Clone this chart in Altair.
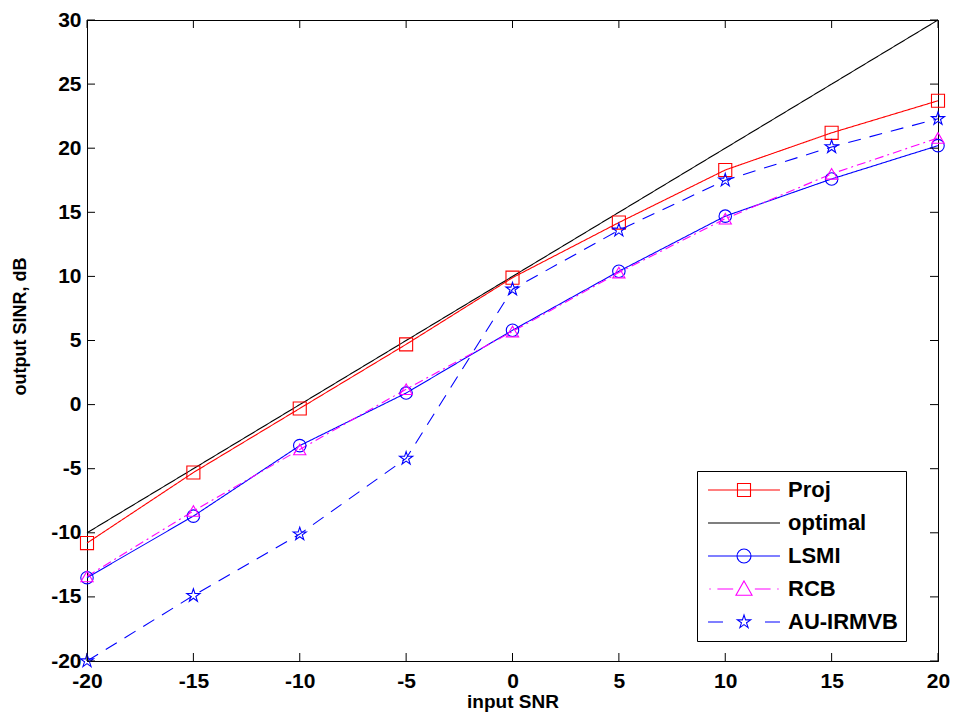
import altair as alt
import pandas as pd
import math

snr = [-20, -15, -10, -5, 0, 5, 10, 15, 20]
proj = [-10.8, -5.3, -0.3, 4.7, 9.9, 14.2, 18.3, 21.2, 23.7]
optimal = [-10, -5, 0, 5, 10, 15, 20, 25, 30]
lsmi = [-13.5, -8.7, -3.2, 0.9, 5.8, 10.4, 14.7, 17.6, 20.2]
rcb = [-13.4, -8.3, -3.5, 1.2, 5.7, 10.3, 14.5, 18.0, 20.8]
au_irmvb = [-20.0, -14.9, -10.1, -4.2, 9.0, 13.6, 17.5, 20.1, 22.3]

series_names = ["Proj", "optimal", "LSMI", "RCB", "AU-IRMVB"]
series_colors = ["#ff0000", "#000000", "#0000ff", "#ff00ff", "#0000ff"]
series_dash = [[1, 0], [1, 0], [1, 0], [9, 4, 2, 4], [13, 9]]
x_ticks = [-20, -15, -10, -5, 0, 5, 10, 15, 20]
y_ticks = [-20, -15, -10, -5, 0, 5, 10, 15, 20, 25, 30]

rows = []
for name, vals in zip(series_names, [proj, optimal, lsmi, rcb, au_irmvb]):
    for xv, yv in zip(snr, vals):
        rows.append({"series": name, "snr": xv, "sinr": yv})
df = pd.DataFrame(rows)

W, H = 851, 641
FONT = "Liberation Sans"


def star_path(cx=0.0, cy=0.0, r=1.0, inner=0.382):
    pts = []
    for k in range(10):
        a = math.radians(-90 + 36 * k)
        rr = r if k % 2 == 0 else r * inner
        pts.append(f"{cx + rr * math.cos(a):.3f},{cy + rr * math.sin(a):.3f}")
    return "M" + "L".join(pts) + "Z"


STAR = star_path()

# legend symbol paths (line + marker); symbolSize 196 -> 1 unit = 7 px
L = 5.14
legend_paths = [
    f"M-{L},0L{L},0M-0.93,-0.93L0.93,-0.93L0.93,0.93L-0.93,0.93Z",
    f"M-{L},0L{L},0",
    f"M-{L},0L{L},0M-1,0A1,1 0 1,0 1,0A1,1 0 1,0 -1,0",
    "M-4.95,0L-4.75,0M-3.8,0L-1.55,0M1.55,0L3.8,0M4.75,0L4.95,0"
    "M0,-1.15L1.15,0.9L-1.15,0.9Z",
    f"M-{L},0L-3.0,0M3.0,0L{L},0" + star_path(0, 0, 1.0),
]

x_scale = alt.Scale(domain=[-20, 20], nice=False, zero=False)
y_scale = alt.Scale(domain=[-20, 30], nice=False, zero=False)

x_enc = alt.X("snr:Q", scale=x_scale, title="input SNR",
              axis=alt.Axis(values=x_ticks, ticks=False, grid=False, labelPadding=9,
                            labelExpr="'' + datum.value", labelFlush=False,
                            titleFontSize=19, titleBaseline="alphabetic", titleY=46))
y_enc = alt.Y("sinr:Q", scale=y_scale, title="output SINR, dB",
              axis=alt.Axis(values=y_ticks, ticks=False, grid=False, labelPadding=6,
                            labelExpr="'' + datum.value", labelFlush=False,
                            titleFontSize=18, titleBaseline="alphabetic",
                            titleX=-62, titleY=306, titleAngle=-90))

base = alt.Chart(df)

line_layers = []
for i, (name, col, dash) in enumerate(zip(series_names, series_colors, series_dash)):
    enc = dict(x=x_enc, y=y_enc) if i == 0 else dict(x="snr:Q", y="sinr:Q")
    line_layers.append(
        base.transform_filter(alt.datum.series == name).mark_line(
            strokeWidth=1.1, color=col, strokeDash=dash
        ).encode(**enc)
    )

marker_specs = [
    ("Proj", "square", 170, "#ff0000"),
    ("LSMI", "circle", 155, "#0000ff"),
    ("RCB", "triangle-up", 150, "#ff00ff"),
    ("AU-IRMVB", STAR, 190, "#0000ff"),
]
point_layers = []
for name, shape, size, col in marker_specs:
    point_layers.append(
        base.transform_filter(alt.datum.series == name).mark_point(
            shape=shape, size=size, filled=False, color=col, strokeWidth=1.1, opacity=1
        ).encode(x="snr:Q", y="sinr:Q")
    )

legend_kw = dict(title=None, orient="none", legendX=610, legendY=451,
                 symbolSize=196, rowPadding=11,
                 labelFontSize=22, labelFont=FONT, labelFontWeight="bold",
                 labelColor="black", labelOffset=33,
                 strokeColor="black", fillColor="white", padding=8,
                 symbolStrokeWidth=1.1, symbolOffset=28,
                 symbolFillColor="transparent")

legend_layer = base.transform_filter("datum.snr == 0").mark_point(
    filled=False, strokeWidth=1.1, opacity=0
).encode(
    x="snr:Q", y="sinr:Q",
    stroke=alt.Stroke("series:N", scale=alt.Scale(domain=series_names, range=series_colors),
                      legend=alt.Legend(**legend_kw)),
    shape=alt.Shape("series:N", scale=alt.Scale(domain=series_names, range=legend_paths),
                    legend=alt.Legend(**legend_kw)),
)

tick_len = 8
xt = pd.DataFrame({"t": x_ticks})
yt = pd.DataFrame({"t": y_ticks})
tick_bottom = alt.Chart(xt).mark_rule(color="black", strokeWidth=1).encode(
    x=alt.X("t:Q", scale=x_scale), y=alt.value(H), y2=alt.value(H - tick_len))
tick_top = alt.Chart(xt).mark_rule(color="black", strokeWidth=1).encode(
    x=alt.X("t:Q", scale=x_scale), y=alt.value(0), y2=alt.value(tick_len))
tick_left = alt.Chart(yt).mark_rule(color="black", strokeWidth=1).encode(
    y=alt.Y("t:Q", scale=y_scale), x=alt.value(0), x2=alt.value(tick_len))
tick_right = alt.Chart(yt).mark_rule(color="black", strokeWidth=1).encode(
    y=alt.Y("t:Q", scale=y_scale), x=alt.value(W), x2=alt.value(W - tick_len))

chart = alt.layer(
    *line_layers, *point_layers, legend_layer, tick_bottom, tick_top, tick_left, tick_right
).properties(
    width=W, height=H,
    autosize=alt.AutoSizeParams(type="none"),
    padding={"left": 79, "top": 12, "right": 12, "bottom": 55},
    background="white",
).configure_view(
    stroke="black", strokeWidth=1
).configure_axis(
    domainColor="black", domainWidth=1,
    labelFont=FONT, labelFontSize=21, labelFontWeight="bold", labelColor="black",
    titleFont=FONT, titleFontWeight="bold", titleColor="black",
)

chart.save("out.html", embed_options={"renderer": "svg", "actions": False})
